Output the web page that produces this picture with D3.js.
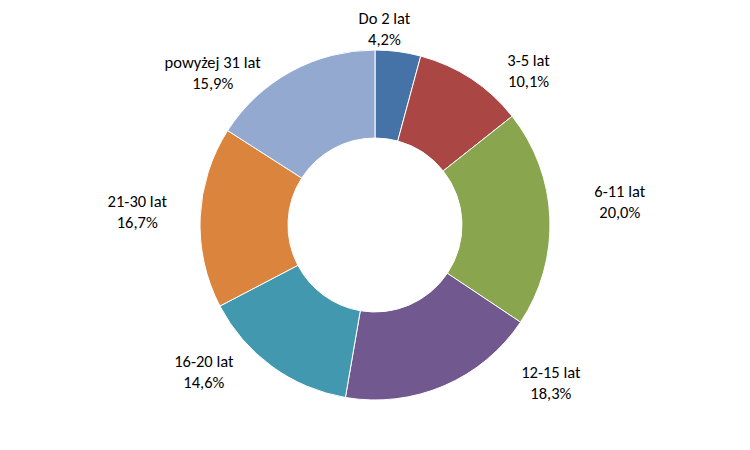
<!DOCTYPE html>
<html><head><meta charset="utf-8">
<script src="https://cdn.jsdelivr.net/npm/d3@7"></script>
<style>body{margin:0;background:#fff}text{font-family:Carlito,Calibri,"Open Sans",sans-serif;font-size:16.5px;fill:#000}</style>
</head><body>
<script>
// data
var categories = ["Do 2 lat","3-5 lat","6-11 lat","12-15 lat","16-20 lat","21-30 lat","powyżej 31 lat"];
var values = [4.2,10.1,20.0,18.3,14.6,16.7,15.9];
var colors = ["#4572A7","#AA4643","#89A54E","#71588F","#4198AF","#DB843D","#93A9CF"];

var width = 750, height = 450;
var cx = 375, cy = 225, outer = 175, inner = 87;

// Excel's "best fit" label placement, approximated as nudges from the polar position
var labelNudge = [[-20,24],[25,40],[0,-14],[85,-54],[-33,-44],[7,-3],[-51,51]];

var svg = d3.select("body").append("svg").attr("width", width).attr("height", height);
var g = svg.append("g").attr("transform", "translate(" + cx + "," + cy + ")");

var pie = d3.pie().sort(null).value(function(d){ return d; });
var arcs = pie(values);
var arc = d3.arc().innerRadius(inner).outerRadius(outer);

g.selectAll("path").data(arcs).enter().append("path")
    .attr("d", arc)
    .attr("fill", function(d,i){ return colors[i]; })
    .attr("stroke", "#fff").attr("stroke-width", 1);

// labels outside the ring
var lab = g.selectAll("g.lab").data(arcs).enter().append("g").attr("class","lab")
    .attr("transform", function(d,i){
        var a = (d.startAngle + d.endAngle) / 2;
        var r = 220 + 25 * Math.abs(Math.sin(a));
        return "translate(" + (r * Math.sin(a) + labelNudge[i][0]) + "," + (-r * Math.cos(a) + labelNudge[i][1]) + ")";
    });
lab.append("text").attr("text-anchor","middle").attr("y",-4)
    .text(function(d,i){ return categories[i]; });
lab.append("text").attr("text-anchor","middle").attr("y",17)
    .text(function(d,i){ return values[i].toFixed(1).replace(".", ",") + "%"; });
</script>
</body></html>
